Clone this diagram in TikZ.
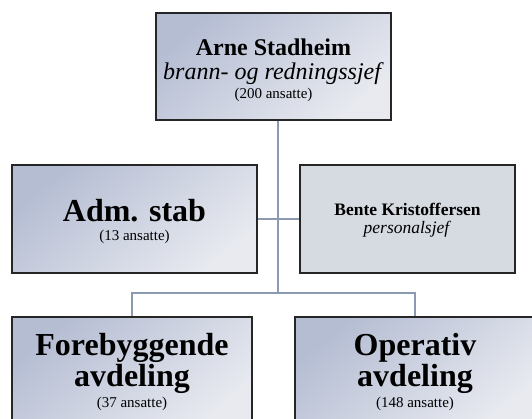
\documentclass[tikz,border=0pt]{standalone}
\usepackage{fontspec}
\setmainfont{Liberation Serif}[
  BoldFont={Liberation Serif Bold},
  ItalicFont={Liberation Serif Italic},
  BoldItalicFont={Liberation Serif Bold Italic}]

\definecolor{boksmork}{HTML}{B5BDD3}
\definecolor{bokslys}{HTML}{E8EAF0}
\definecolor{boksgraa}{HTML}{D6DAE1}
\definecolor{linje}{HTML}{8C99B2}

\newcommand{\hev}[1]{\rule{0pt}{#1}}

\tikzset{
  boks/.style={draw=black!85, line width=1.6pt, align=center,
    top color=boksmork, bottom color=bokslys, shading angle=40,
    inner sep=0pt},
  grab/.style={draw=black!85, line width=1.6pt, align=center,
    fill=boksgraa, inner sep=0pt},
  kobling/.style={draw=linje, line width=2.5pt}
}

\begin{document}
\begin{tikzpicture}[x=1pt, y=-1pt]

    \useasboundingbox (0,0) rectangle (532,419);
    \clip (0,0) rectangle (532,419);

    % Bokser
    \node[boks, minimum width=235pt, minimum height=107pt,
      font=\fontsize{24}{24}\selectfont] (sjef) at (273.5,66.5)
      {\hev{25pt}\textbf{Arne Stadheim}\\ \textit{brann- og redningssjef}\\[-5pt]
       {\fontsize{15}{15}\selectfont (200 ansatte)}};

    \node[boks, minimum width=245pt, minimum height=108pt,
      font=\fontsize{32}{32}\selectfont] (adm) at (134.5,219)
      {\hev{28pt}\textbf{Adm. stab}\\[-13pt] {\fontsize{15}{15}\selectfont (13 ansatte)}};

    \node[grab, minimum width=215pt, minimum height=108pt,
      font=\fontsize{17.5}{18}\selectfont] (bente) at (407.5,219)
      {\hev{15pt}\textbf{Bente Kristoffersen}\\ \textit{personalsjef}};

    \node[boks, minimum width=240pt, minimum height=110pt,
      font=\fontsize{32}{31}\selectfont] (forebygg) at (132,372)
      {\textbf{Forebyggende}\\ \textbf{avdeling}\\[-10pt]
       {\fontsize{15}{15}\selectfont (37 ansatte)}};

    \node[boks, minimum width=240pt, minimum height=110pt,
      font=\fontsize{32}{31}\selectfont] (operativ) at (415,372)
      {\textbf{Operativ}\\ \textbf{avdeling}\\[-10pt]
       {\fontsize{15}{15}\selectfont (148 ansatte)}};

    % Linjer
    \coordinate (midt) at (278,293);
    \draw[kobling] (sjef.south -| midt) -- (midt);
    \draw[kobling] (adm.east) -- (bente.west);
    \draw[kobling] (forebygg.north) |- (midt) -| (operativ.north);

\end{tikzpicture}
\end{document}
